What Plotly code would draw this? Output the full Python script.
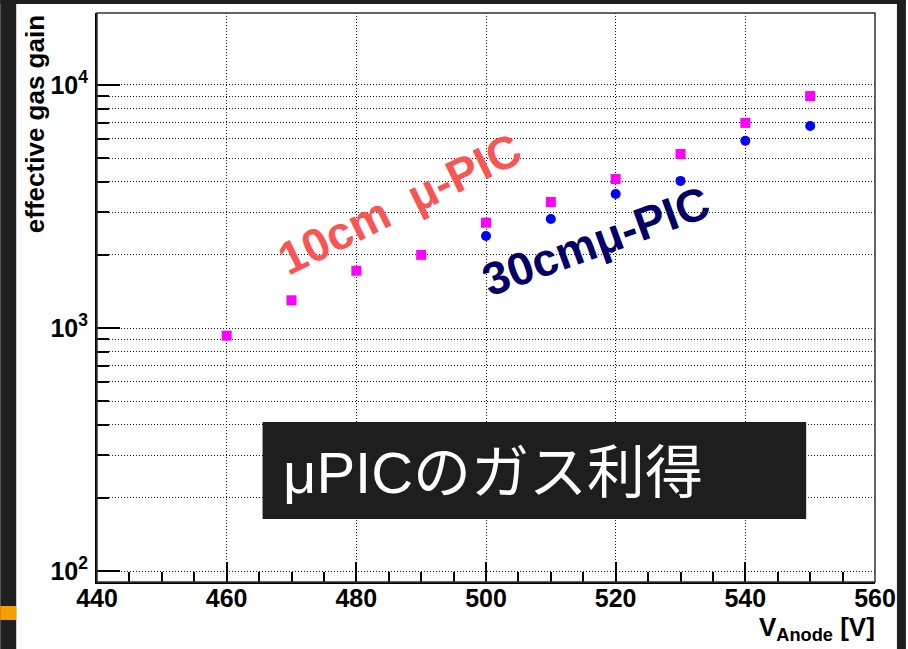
import plotly.graph_objects as go

# Anode voltage [V] and measured effective gas gain
v_10cm = [460, 470, 480, 490, 500, 510, 520, 530, 540, 550]
gain_10cm = [930, 1300, 1720, 2000, 2710, 3300, 4100, 5200, 6980, 9000]

v_30cm = [500, 510, 520, 530, 540, 550]
gain_30cm = [2390, 2810, 3560, 4030, 5890, 6780]

x_ticks = [440, 460, 480, 500, 520, 540, 560]
y_ticks = [100, 1000, 10000]
y_tick_text = ["10<sup>2</sup>", "10<sup>3</sup>", "10<sup>4</sup>"]

label_10cm = "10cm\u00a0\u00a0μ-PIC"
label_30cm = "30cmμ-PIC"
title_text = "μPICのガス利得"

# log-axis sub-decade positions (2..9 x 10^n)
y_minor = [k * 10 ** n for n in range(1, 5) for k in range(2, 10)]

W, H = 908, 649
L, R, T, B = 97, 877, 13, 582
pw, ph = R - L, B - T


def px(x):
    return (x - L) / pw


def py(y):
    return 1 - (y - T) / ph


fig = go.Figure()
fig.add_trace(go.Scatter(
    x=v_10cm, y=gain_10cm, mode="markers", name="10cm μ-PIC",
    marker=dict(symbol="square", size=10, color="#ff00ff", line=dict(width=0)),
))
fig.add_trace(go.Scatter(
    x=v_30cm, y=gain_30cm, mode="markers", name="30cm μ-PIC",
    marker=dict(symbol="circle", size=10, color="#0000ff", line=dict(width=0)),
))

tick_font = dict(family="Liberation Sans, Arial", size=25, color="black", weight="bold")
grid_dash = "1px,2px"

fig.update_xaxes(
    range=[440, 560], tickmode="array", tickvals=x_ticks,
    ticks="inside", ticklen=20, tickwidth=1.5, tickcolor="black",
    tickfont=tick_font, ticklabelstandoff=-7,
    showgrid=True, griddash=grid_dash, gridcolor="#111", gridwidth=1.2,
    showline=True, linecolor="black", linewidth=2, zeroline=False,
    minor=dict(dtick=5, tick0=440, ticks="inside", ticklen=10, tickwidth=1.5,
               tickcolor="black", showgrid=False),
)
fig.update_yaxes(
    type="log", range=[1.955, 4.296], tickmode="array",
    tickvals=y_ticks, ticktext=y_tick_text,
    ticks="inside", ticklen=23, tickwidth=1.5, tickcolor="black",
    tickfont=tick_font, ticklabelstandoff=2,
    showgrid=True, griddash=grid_dash, gridcolor="#111", gridwidth=1.2,
    showline=True, linecolor="black", linewidth=2, zeroline=False,
    minor=dict(tickmode="array", tickvals=y_minor, ticks="inside", ticklen=12,
               tickwidth=1.5, tickcolor="black", showgrid=True,
               griddash=grid_dash, gridcolor="#111", gridwidth=1.2),
)

dark = "#1f1f1f"
shapes = [
    # dark page edges
    dict(type="rect", xref="paper", yref="paper", x0=px(0), x1=px(16),
         y0=py(649), y1=py(0), fillcolor=dark, line=dict(width=0), layer="below"),
    dict(type="rect", xref="paper", yref="paper", x0=px(0), x1=px(908),
         y0=py(4), y1=py(0), fillcolor=dark, line=dict(width=0), layer="below"),
    dict(type="rect", xref="paper", yref="paper", x0=px(899), x1=px(908),
         y0=py(649), y1=py(0), fillcolor=dark, line=dict(width=0), layer="below"),
    # orange edge mark
    dict(type="rect", xref="paper", yref="paper", x0=px(0), x1=px(16),
         y0=py(620), y1=py(606), fillcolor="#f5a000", line=dict(width=0), layer="below"),
    # frame
    dict(type="rect", xref="paper", yref="paper", x0=0, x1=1, y0=0, y1=1,
         line=dict(color="#333", width=1.5), layer="above"),
    # title box
    dict(type="rect", xref="paper", yref="paper", x0=px(263), x1=px(808),
         y0=py(519), y1=py(422), fillcolor="#1e1e1e", line=dict(width=0), layer="above"),
]

annotations = [
    dict(text="<b>" + label_10cm + "</b>", xref="paper", yref="paper",
         x=px(400), y=py(204), textangle=-26, showarrow=False,
         font=dict(family="Liberation Sans, Arial", size=46, color="#f85555")),
    dict(text="<b>" + label_30cm + "</b>", xref="paper", yref="paper",
         x=px(597), y=py(241), textangle=-20, showarrow=False,
         font=dict(family="Liberation Sans, Arial", size=46, color="#000066")),
    dict(text=title_text, xref="paper", yref="paper", x=px(281), y=py(472),
         xanchor="left", yanchor="middle", showarrow=False,
         font=dict(family="Liberation Sans, Noto Sans CJK JP", size=58, color="white")),
    dict(text="<b>effective gas gain</b>", xref="paper", yref="paper",
         x=px(35), y=py(13), xanchor="center", yanchor="top", textangle=-90,
         showarrow=False,
         font=dict(family="Liberation Sans, Arial", size=26, color="black")),
    dict(text="<b>V<sub>Anode</sub> [V]</b>", xref="paper", yref="paper",
         x=px(879), y=py(628), xanchor="right", yanchor="middle", showarrow=False,
         font=dict(family="Liberation Sans, Arial", size=26, color="black")),
]

fig.update_layout(
    width=W, height=H,
    margin=dict(l=L, r=W - R, t=T, b=H - B, pad=0),
    paper_bgcolor="white", plot_bgcolor="white",
    showlegend=False, shapes=shapes, annotations=annotations,
)

fig.write_html("out.html")
